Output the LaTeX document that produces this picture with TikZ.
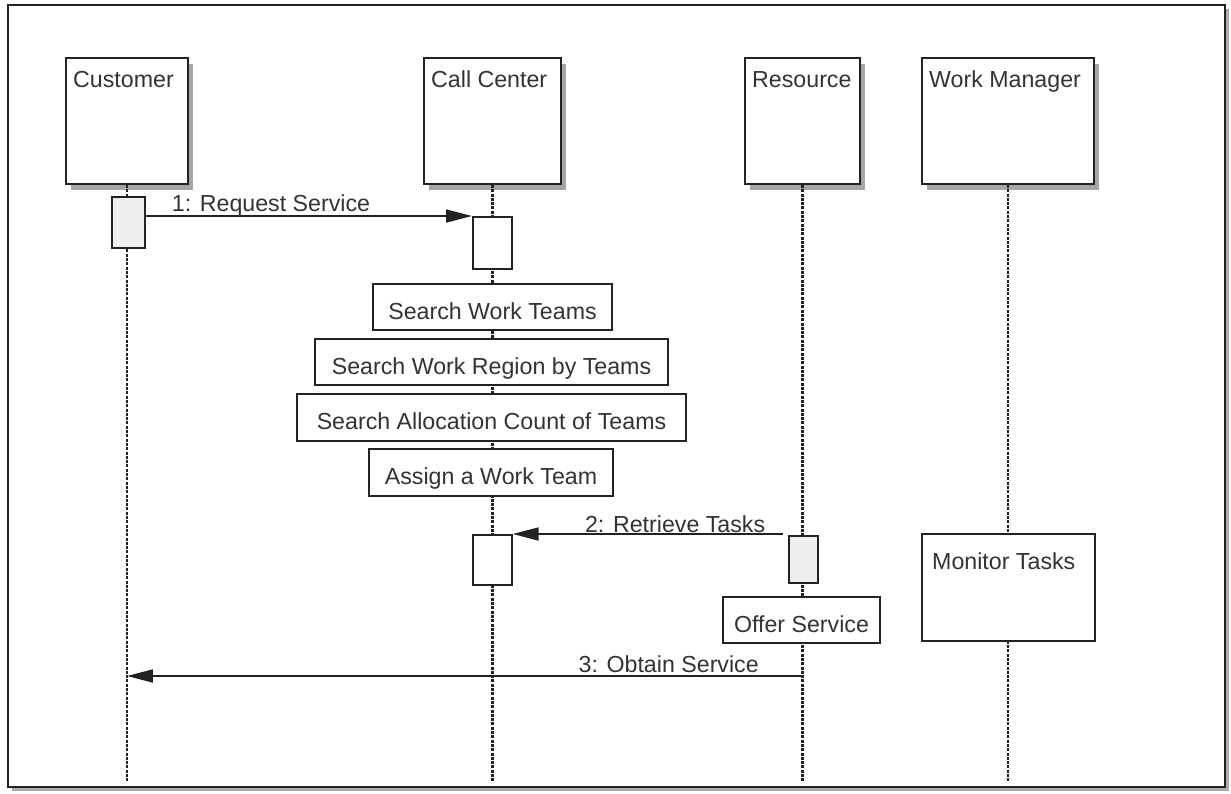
\documentclass[tikz,border=0pt]{standalone}
\usepackage{fontspec}
\setmainfont{Liberation Sans}
\usetikzlibrary{arrows.meta,shadows}
\definecolor{ink}{HTML}{222222}
\definecolor{txt}{HTML}{333333}
\definecolor{actfill}{HTML}{EEEEEE}
\begin{document}
\begin{tikzpicture}[x=1pt,y=-1pt,
  every node/.style={font=\fontsize{23.2}{27}\selectfont, text=txt},
  objbox/.style={draw=ink, line width=1.9pt, fill=white, anchor=north west, inner sep=0pt,
    drop shadow={shadow xshift=5pt, shadow yshift=-6pt, fill=gray!70, opacity=1}},
  objlabel/.style={anchor=base west, inner sep=0pt, xshift=8pt, yshift=-30pt},
  actbox/.style={draw=ink, line width=1.7pt, fill=white, anchor=north west, inner sep=0pt},
  stepbox/.style={draw=ink, line width=2pt, fill=white, inner sep=0pt, text height=24pt, text depth=0pt},
  lifeline/.style={draw=ink, line width=2.2pt, dash pattern=on 3pt off 1.3pt},
  msg/.style={draw=ink, line width=1.8pt, -{Triangle[length=26pt,width=13pt]}},
  msglabel/.style={anchor=base, inner sep=0pt}
]
\useasboundingbox (0,0) rectangle (1231,793);
% frame with shadow
\fill[gray!65] (12,9) rectangle (1229,791);
\draw[ink, line width=2pt, fill=white] (8,5) rectangle (1225,787);

% object boxes
\node[objbox, minimum width=122pt, minimum height=126pt,
  label={[objlabel]north west:Customer}] (cust) at (65,57) {};
\node[objbox, minimum width=137pt, minimum height=126pt,
  label={[objlabel]north west:Call Center}] (cc) at (423,57) {};
\node[objbox, minimum width=115pt, minimum height=126pt,
  label={[objlabel]north west:Resource}] (res) at (744,57) {};
\node[objbox, minimum width=172pt, minimum height=126pt,
  label={[objlabel]north west:Work Manager}] (wm) at (921,57) {};

% lifeline ends
\coordinate (custend) at (cust.south |- 0,782);
\coordinate (ccend) at (cc.south |- 0,782);
\coordinate (resend) at (res.south |- 0,782);
\coordinate (wmend) at (wm.south |- 0,782);

\draw[lifeline] (cust.south) -- (custend);
\draw[lifeline] (cc.south) -- (ccend);
\draw[lifeline] (res.south) -- (resend);
\draw[lifeline] (wm.south) -- (wmend);

% activation boxes
\node[actbox, fill=actfill, minimum width=33pt, minimum height=51pt] (custact) at (111,196) {};
\node[actbox, minimum width=39pt, minimum height=52pt] (ccact1) at (472,216) {};
\node[actbox, minimum width=39pt, minimum height=50pt] (ccact2) at (472,534) {};
\node[actbox, fill=actfill, minimum width=29pt, minimum height=47pt] (resact) at (788,535) {};

% step boxes
\node[stepbox, minimum width=239pt, minimum height=46pt] (swt) at (492.5,307) {Search Work Teams};
\node[stepbox, minimum width=353pt, minimum height=46pt] (swr) at (491.5,362) {Search Work Region by Teams};
\node[stepbox, minimum width=389pt, minimum height=47pt] (sac) at (491.5,417) {Search Allocation Count of Teams};
\node[stepbox, minimum width=244pt, minimum height=47pt] (awt) at (491,472.5) {Assign a Work Team};
\node[stepbox, minimum width=157pt, minimum height=46pt] (offer) at (801.5,620) {Offer Service};
\node[draw=ink, line width=2pt, fill=white, inner sep=0pt, anchor=north west, minimum width=173pt, minimum height=107pt,
  label={[anchor=base west, inner sep=0pt, xshift=11pt, yshift=-36pt]north west:Monitor Tasks}] (mon) at (921,533) {};

% messages
\draw[msg] (ccact1.north west -| custact.east) -- (ccact1.north west)
  node[msglabel, pos=0.384, yshift=5pt] {1: Request Service};
\draw[msg, shorten <=5pt] (ccact2.north east -| resact.north west) -- (ccact2.north east)
  node[msglabel, pos=0.41, yshift=2pt] {2: Retrieve Tasks};
\coordinate (o3) at (res.south |- 0,676);
\draw[msg] (o3) -- (cust.south |- o3)
  node[msglabel, pos=0.198, yshift=4pt] {3: Obtain Service};
\end{tikzpicture}
\end{document}
